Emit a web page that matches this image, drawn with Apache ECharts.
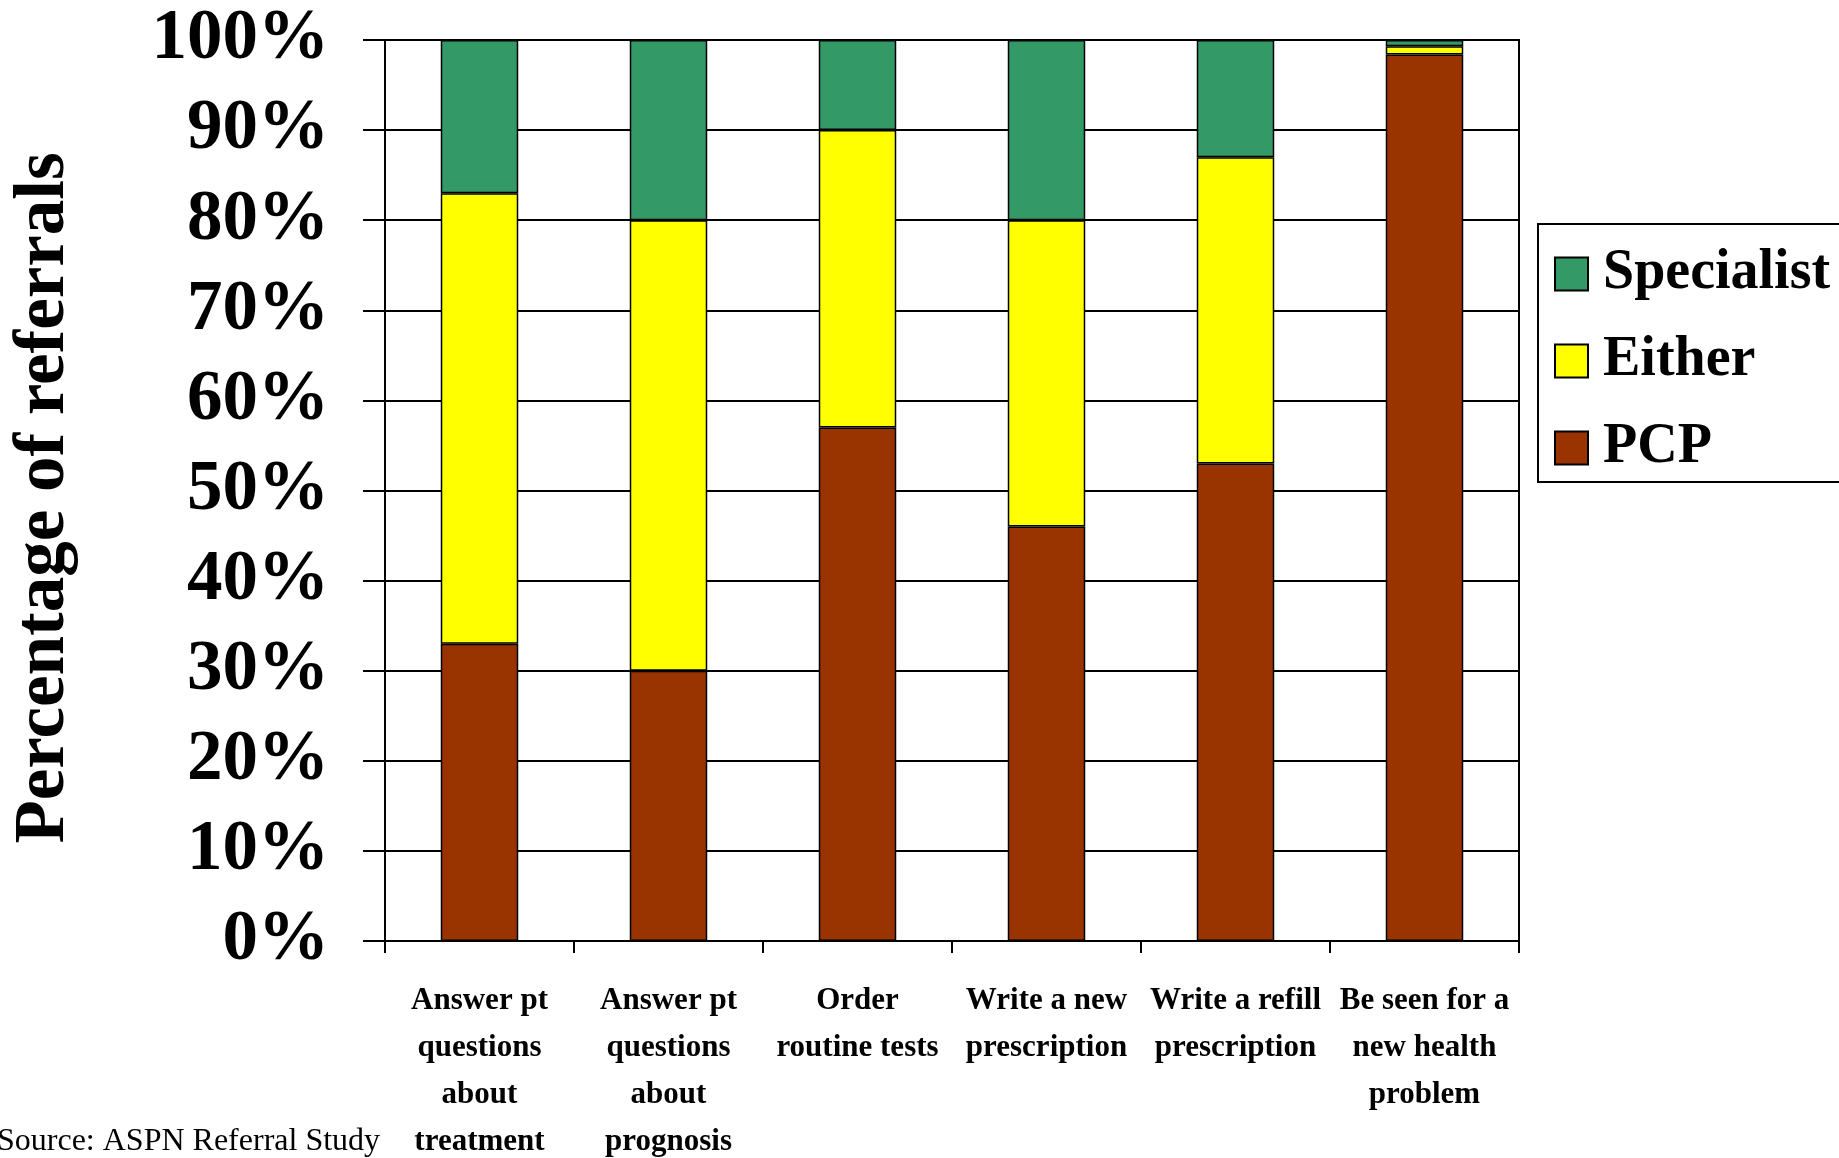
<!DOCTYPE html>
<html>
<head>
<meta charset="utf-8">
<title>Referral responsibilities</title>
<script src="https://cdn.jsdelivr.net/npm/echarts@6/dist/echarts.min.js"></script>
<style>
  html, body { margin: 0; padding: 0; background: #fff; }
  #chart { width: 1839px; height: 1158px; }
</style>
</head>
<body>
<div id="chart"></div>
<script>
// Tasks asked of the referral recipient
const categories = [
  'Answer pt\nquestions\nabout\ntreatment',
  'Answer pt\nquestions\nabout\nprognosis',
  'Order\nroutine tests',
  'Write a new\nprescription',
  'Write a refill\nprescription',
  'Be seen for a\nnew health\nproblem'
];

// Share of referrals (%) by who should perform the task
const pcp        = [33, 30, 57, 46, 53, 98.4];
const either     = [50, 50, 33, 34, 34, 0.9];
const specialist = [17, 20, 10, 20, 13, 0.7];

const yTicks = [0, 10, 20, 30, 40, 50, 60, 70, 80, 90, 100];

const serif = '"Liberation Serif", "Times New Roman", serif';
const barBorder = { borderColor: '#000', borderWidth: 1.5 };

const chart = echarts.init(document.getElementById('chart'), null, { renderer: 'canvas' });

chart.setOption({
  backgroundColor: '#fff',
  animation: false,
  grid: {
    left: 385, right: 320, top: 40, bottom: 217,
    outerBoundsMode: 'none',
    show: true, borderColor: '#000', borderWidth: 2, backgroundColor: 'transparent'
  },
  legend: {
    orient: 'vertical',
    left: 1538, top: 224,
    data: ['Specialist', 'Either', 'PCP'],
    icon: 'rect',
    itemWidth: 33, itemHeight: 33, itemGap: 27,
    padding: [20, 60, 4, 16],
    borderColor: '#000', borderWidth: 2,
    textStyle: {
      fontFamily: serif, fontWeight: 'bold', fontSize: 56, color: '#000',
      lineHeight: 60, padding: [0, 0, 0, 10]
    }
  },
  xAxis: {
    type: 'category',
    data: categories,
    boundaryGap: true,
    axisLine: { lineStyle: { color: '#000', width: 2 } },
    axisTick: { show: true, length: 12, lineStyle: { color: '#000', width: 2 } },
    axisLabel: {
      interval: 0, margin: 36,
      fontFamily: serif, fontWeight: 'bold', fontSize: 31, lineHeight: 47, color: '#000',
      align: 'center'
    },
    splitLine: { show: false }
  },
  yAxis: {
    type: 'value',
    min: yTicks[0], max: yTicks[yTicks.length - 1], interval: 10,
    axisLine: { show: true, lineStyle: { color: '#000', width: 2 } },
    axisTick: { show: true, length: 22, lineStyle: { color: '#000', width: 2 } },
    axisLabel: {
      margin: 56,
      fontFamily: serif, fontWeight: 'bold', fontSize: 71, color: '#000',
      padding: [22, 0, 0, 0],
      formatter: '{value}%'
    },
    splitLine: { show: true, lineStyle: { color: '#000', width: 2 } }
  },
  series: [
    {
      name: 'PCP', type: 'bar', stack: 'share', data: pcp, barWidth: '41%',
      itemStyle: Object.assign({ color: '#993300' }, barBorder)
    },
    {
      name: 'Either', type: 'bar', stack: 'share', data: either,
      itemStyle: Object.assign({ color: '#FFFF00' }, barBorder)
    },
    {
      name: 'Specialist', type: 'bar', stack: 'share', data: specialist,
      itemStyle: Object.assign({ color: '#339966' }, barBorder)
    }
  ],
  graphic: [
    {
      // vertical axis title
      type: 'text', x: 45, y: 498, rotation: Math.PI / 2,
      style: {
        text: 'Percentage of referrals',
        fontFamily: serif, fontWeight: 'bold', fontSize: 71, fill: '#000',
        align: 'center', verticalAlign: 'middle'
      }
    },
    {
      type: 'text', left: -3, top: 1126,
      style: {
        text: 'Source: ASPN Referral Study',
        fontFamily: serif, fontSize: 32, fill: '#000'
      }
    }
  ]
});
</script>
</body>
</html>
